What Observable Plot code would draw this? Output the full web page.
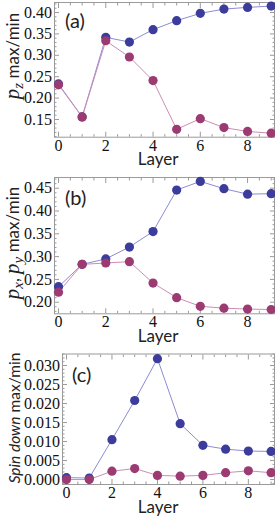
<!DOCTYPE html>
<html>
<head>
<meta charset="utf-8">
<script src="https://cdn.jsdelivr.net/npm/d3@7"></script>
<script src="https://cdn.jsdelivr.net/npm/@observablehq/plot@0.6"></script>
<style>
  html, body { margin: 0; padding: 0; background: #fff; }
  #chart svg { display: block; }
</style>
</head>
<body>
<div id="chart"></div>
<script>
const layers = [0, 1, 2, 3, 4, 5, 6, 7, 8, 9];
const pzMax  = [0.233, 0.156, 0.342, 0.331, 0.360, 0.381, 0.398, 0.408, 0.412, 0.415];
const pzMin  = [0.231, 0.156, 0.334, 0.296, 0.241, 0.127, 0.152, 0.131, 0.122, 0.118];
const pxyMax = [0.234, 0.283, 0.295, 0.321, 0.355, 0.446, 0.465, 0.449, 0.437, 0.438];
const pxyMin = [0.222, 0.283, 0.286, 0.289, 0.242, 0.210, 0.191, 0.187, 0.185, 0.184];
const spinMax = [0.0005, 0.0004, 0.0105, 0.0208, 0.0318, 0.0147, 0.0090, 0.0080, 0.0075, 0.0074];
const spinMin = [0.0000, 0.0000, 0.0022, 0.0029, 0.0011, 0.0009, 0.0011, 0.0018, 0.0023, 0.0018];

const xMajor = [0, 2, 4, 6, 8];
const xMinor = d3.range(0, 9.01, 0.5).filter(v => v % 2 !== 0);
const yTicksA = [0.15, 0.20, 0.25, 0.30, 0.35, 0.40];
const yTicksB = [0.20, 0.25, 0.30, 0.35, 0.40, 0.45];
const yTicksC = [0.000, 0.005, 0.010, 0.015, 0.020, 0.025, 0.030];

const panelNames = ["(a)", "(b)", "(c)"];

const BLUE = "#3c3c9c", BLUE_LINE = "#8c8cd4";
const PINK = "#9b3b72", PINK_LINE = "#cc8db4";
const FRAME = "#9a9a9a";
const SERIF = "'Liberation Serif', 'Times New Roman', serif";
const SANS = "Lato, 'Open Sans', sans-serif";

function minorTicks(major, step) {
  const lo = major[0] - 3 * (major[1] - major[0]);
  const hi = major[major.length - 1] + 3 * (major[1] - major[0]);
  const out = [];
  for (let v = lo; v <= hi + 1e-9; v += step) {
    const r = Math.round(v / step) * step;
    if (!major.some(m => Math.abs(m - r) < step / 10)) out.push(+r.toFixed(6));
  }
  return out;
}

function mathP(t, sub) {
  t.append("tspan").attr("font-family", SERIF).attr("font-style", "italic").attr("font-size", 21).text("p");
  t.append("tspan").attr("font-family", SERIF).attr("font-style", "italic").attr("font-size", 15).attr("dy", 4).text(sub);
}

function panel(cfg) {
  const rows = layers.map((l, i) => ({layer: l, max: cfg.max[i], min: cfg.min[i]}));
  const yMinor = minorTicks(cfg.yTicks, cfg.yStep).filter(v => v > cfg.yDomain[0] && v < cfg.yDomain[1]);
  const tick = (anchor, data, size) => (anchor === "bottom" || anchor === "top")
    ? Plot.axisX(data, {anchor, tickSize: -size, tickFormat: () => "", stroke: FRAME, label: null})
    : Plot.axisY(data, {anchor, tickSize: -size, tickFormat: () => "", stroke: FRAME, label: null});
  const svg = Plot.plot({
    width: 275,
    height: cfg.height,
    marginLeft: cfg.ml,
    marginRight: 1,
    marginTop: cfg.mt,
    marginBottom: cfg.mb,
    x: {domain: cfg.xDomain, axis: null, label: null},
    y: {domain: cfg.yDomain, axis: null, label: null},
    marks: [
      tick("bottom", xMajor, 5), tick("bottom", xMinor, 2.5),
      tick("top", xMajor, 5), tick("top", xMinor, 2.5),
      tick("left", cfg.yTicks, 5), tick("left", yMinor, 2.5),
      tick("right", cfg.yTicks, 5), tick("right", yMinor, 2.5),
      Plot.axisX(xMajor, {anchor: "bottom", tickSize: 0, tickPadding: 2, fontSize: 16, fontFamily: SERIF, fill: "#111", label: null}),
      Plot.axisY(cfg.yTicks, {anchor: "left", tickSize: 0, tickPadding: 2.5, fontSize: 16, fontFamily: SERIF, fill: "#111", label: null, tickFormat: cfg.fmt}),
      Plot.frame({stroke: FRAME, strokeWidth: 1}),
      Plot.line(rows, {x: "layer", y: "max", stroke: BLUE_LINE, strokeWidth: 1}),
      Plot.line(rows, {x: "layer", y: "min", stroke: PINK_LINE, strokeWidth: 1}),
      Plot.dot(rows, {x: "layer", y: "max", fill: BLUE, r: 4.6}),
      Plot.dot(rows, {x: "layer", y: "min", fill: PINK, r: 4.6})
    ]
  });
  const s = d3.select(svg);
  const frameBottom = cfg.height - cfg.mb;
  // x label
  s.append("text").attr("x", cfg.layerX).attr("y", frameBottom + 28.5)
    .attr("text-anchor", "middle").attr("font-family", SANS).attr("font-size", 17).attr("fill", "#222")
    .text("Layer");
  // panel label
  s.append("text").attr("x", cfg.ml + cfg.tagDx).attr("y", cfg.mt + cfg.tagDy)
    .attr("text-anchor", "start").attr("font-family", SANS).attr("font-size", 20).attr("fill", "#222")
    .text(cfg.tag);
  // y label
  const t = s.append("text")
    .attr("transform", `translate(${cfg.ylX},${cfg.ylY}) rotate(-90)`)
    .attr("text-anchor", "middle").attr("font-family", SANS).attr("font-size", cfg.ylSize).attr("fill", "#222");
  cfg.ylabel(t);
  return svg;
}

const root = document.getElementById("chart");

root.appendChild(panel({
  max: pzMax, min: pzMin, yTicks: yTicksA, yStep: 0.01, yDomain: [0.1086, 0.4234],
  xDomain: [-0.17, 9.14], height: 175, mt: 2, mb: 38.3, ml: 54,
  fmt: d3.format(".2f"), tag: panelNames[0], tagDx: 11, tagDy: 25.5, layerX: 158,
  ylX: 19, ylY: 56, ylSize: 17,
  ylabel: t => {
    mathP(t, "z");
    t.append("tspan").attr("dy", -4).text(" max/min");
  }
}));

root.appendChild(panel({
  max: pxyMax, min: pxyMin, yTicks: yTicksB, yStep: 0.01, yDomain: [0.1746, 0.4735],
  xDomain: [-0.17, 9.14], height: 176, mt: 2, mb: 37.7, ml: 54,
  fmt: d3.format(".2f"), tag: panelNames[1], tagDx: 11, tagDy: 28, layerX: 158,
  ylX: 19, ylY: 68, ylSize: 17,
  ylabel: t => {
    mathP(t, "x");
    t.append("tspan").attr("dy", -4).text(", ");
    mathP(t, "y");
    t.append("tspan").attr("dy", -4).text(" max/min");
  }
}));

root.appendChild(panel({
  max: spinMax, min: spinMin, yTicks: yTicksC, yStep: 0.001, yDomain: [-0.0013, 0.03303],
  xDomain: [-0.176, 9.15], height: 171, mt: 2.5, mb: 38, ml: 62,
  fmt: d3.format(".3f"), tag: panelNames[2], tagDx: 10, tagDy: 28.5, layerX: 158,
  ylX: 20, ylY: 67, ylSize: 15.5,
  ylabel: t => {
    t.append("tspan").attr("font-style", "italic").text("Spin down");
    t.append("tspan").text(" max/min");
  }
}));
</script>
</body>
</html>
